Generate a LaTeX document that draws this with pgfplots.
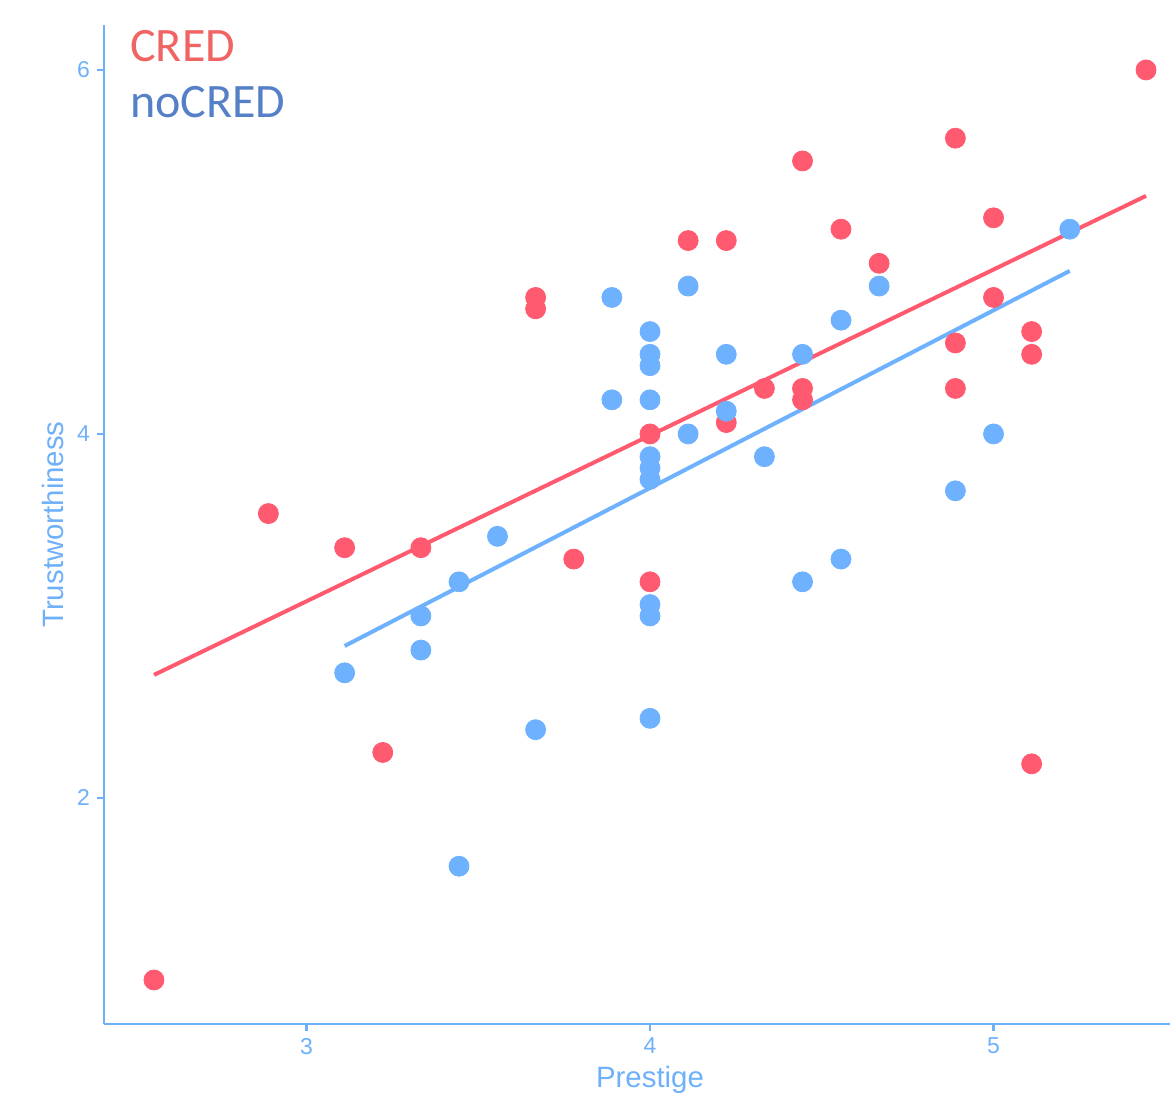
\documentclass[border=0pt]{standalone}
\usepackage{pgfplots}
\pgfplotsset{compat=1.18}
\usepackage{fontspec}
\setmainfont{Liberation Sans}
\newfontfamily\legfont{Carlito}
\definecolor{axcol}{RGB}{110,176,250}
\definecolor{redpt}{RGB}{255,90,112}
\definecolor{bluept}{RGB}{110,177,255}
\definecolor{legred}{RGB}{240,100,100}
\definecolor{legblue}{RGB}{85,128,200}
\begin{document}
\begin{tikzpicture}
\begin{axis}[
  at={(0,0)}, anchor=south west,
  scale only axis, width=533pt, height=499.5pt,
  xmin=2.4105, xmax=5.5138, ymin=0.758, ymax=6.247,
  axis lines=left, axis line style={-, axcol, line width=1.2pt},
  xtick={3,4,5}, ytick={2,4,6},
  tick style={axcol, line width=1.2pt}, tick align=outside, major tick length=3.5pt,
  ticklabel style={font=\fontsize{11.5}{12}\selectfont, text=axcol},
  /pgf/number format/assume math mode=true,
  xlabel={Prestige}, ylabel={Trustworthiness},
  label style={font=\fontsize{14.7}{16}\selectfont, text=axcol},
  xlabel style={yshift=0.8pt, xshift=6.5pt},
  ylabel style={yshift=0pt},
  clip=false,
]
\addplot[only marks, mark=*, mark size=5pt, redpt, mark options={draw=none, fill=redpt}] coordinates {
(2.556,1.0) (2.889,3.5625) (3.111,3.375) (3.333,3.375) (3.222,2.25)
(3.667,4.75) (3.667,4.6875) (3.778,3.3125) (4,3.1875) (4.111,5.0625)
(4.222,5.0625) (4.222,4.0625) (4.333,4.25) (4.444,5.5) (4.444,4.25)
(4.444,4.1875) (4.556,5.125) (4.667,4.9375) (4.889,5.625) (4.889,4.5)
(4.889,4.25) (5,5.1875) (5,4.75) (5.111,4.5625) (5.111,4.4375)
(5.111,2.1875) (5.444,6)
};
\addplot[only marks, mark=*, mark size=5pt, bluept, mark options={draw=none, fill=bluept}] coordinates {
(3.111,2.6875) (3.333,3.0) (3.333,2.8125) (3.444,3.1875) (3.444,1.625)
(3.556,3.4375) (3.667,2.375) (3.889,4.75) (3.889,4.1875) (4,4.5625)
(4,4.4375) (4,4.375) (4,4.1875) (4,3.875) (4,3.8125) (4,3.75)
(4,3.0625) (4,3.0) (4,2.4375) (4.111,4.8125) (4.111,4.0) (4.222,4.4375)
(4.222,4.125) (4.333,3.875) (4.444,4.4375) (4.444,3.1875) (4.556,4.625)
(4.556,3.3125) (4.667,4.8125) (4.889,3.6875) (5,4.0) (5.222,5.125)
};
\addplot[only marks, mark=*, mark size=5pt, redpt, mark options={draw=none, fill=redpt}] coordinates {(4,4)};
\addplot[redpt, line width=2pt] coordinates {(2.556,2.676) (5.444,5.308)};
\addplot[bluept, line width=2pt] coordinates {(3.111,2.835) (5.222,4.896)};
\end{axis}
\node[anchor=base west, inner sep=0pt, text=legred, font=\legfont\fontsize{24}{28}\selectfont] at (13pt,481pt) {CRED};
\node[anchor=base west, inner sep=0pt, text=legblue, font=\legfont\fontsize{24}{28}\selectfont] at (13pt,453pt) {noCRED};
\pgfresetboundingbox
\path[use as bounding box] (-52pt,-36.5pt) rectangle (533pt,512pt);
\end{tikzpicture}
\end{document}
